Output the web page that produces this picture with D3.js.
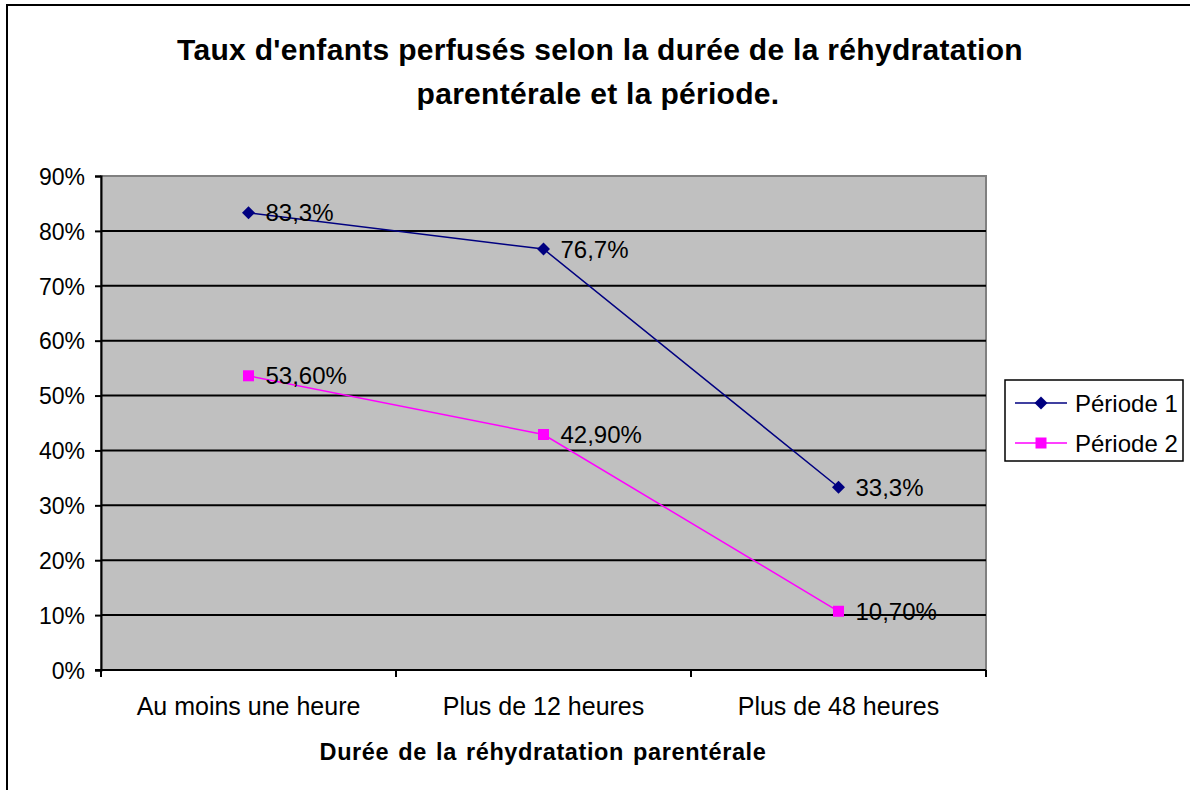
<!DOCTYPE html>
<html lang="fr">
<head>
<meta charset="UTF-8">
<title>Taux d'enfants perfusés</title>
<script src="https://cdnjs.cloudflare.com/ajax/libs/d3/7.8.5/d3.min.js"></script>
<style>
  body { margin: 0; background: #fff; }
  svg { font-family: "Liberation Sans", Arial, sans-serif; }
</style>
</head>
<body>
<div id="chart"></div>
<script>
var categories = ["Au moins une heure", "Plus de 12 heures", "Plus de 48 heures"];
var periode1 = [83.3, 76.7, 33.3];
var periode2 = [53.6, 42.9, 10.7];
var labels1 = ["83,3%", "76,7%", "33,3%"];
var labels2 = ["53,60%", "42,90%", "10,70%"];
var seriesNames = ["Période 1", "Période 2"];
var yTicks = [0, 10, 20, 30, 40, 50, 60, 70, 80, 90];

var width = 1190, height = 790;
var plot = { left: 101, top: 176, right: 986, bottom: 670 };
var font = "Liberation Sans, Arial, sans-serif";

var svg = d3.select("#chart").append("svg")
  .attr("width", width).attr("height", height);

// outer frame
svg.append("rect")
  .attr("x", 7).attr("y", 5).attr("width", 1200).attr("height", 800)
  .attr("fill", "#fff").attr("stroke", "#000").attr("stroke-width", 2);

// title
var title = svg.append("text")
  .attr("text-anchor", "middle")
  .attr("font-size", 30).attr("font-weight", "bold")
  .attr("letter-spacing", 0.3);
title.append("tspan").attr("x", 600).attr("y", 60)
  .text("Taux d'enfants perfusés selon la durée de la réhydratation");
title.append("tspan").attr("x", 598).attr("y", 104)
  .text("parentérale et la période.");

var x = d3.scaleBand().domain(categories).range([plot.left, plot.right]);
var y = d3.scaleLinear().domain([0, 90]).range([plot.bottom, plot.top]);

// plot area
svg.append("rect")
  .attr("x", plot.left).attr("y", plot.top)
  .attr("width", plot.right - plot.left).attr("height", plot.bottom - plot.top)
  .attr("fill", "#c0c0c0").attr("stroke", "#808080").attr("stroke-width", 2);

// gridlines
svg.append("g").selectAll("line")
  .data(yTicks.filter(function (d) { return d > 0 && d < 90; }))
  .enter().append("line")
  .attr("x1", plot.left).attr("x2", plot.right)
  .attr("y1", function (d) { return y(d); })
  .attr("y2", function (d) { return y(d); })
  .attr("stroke", "#000").attr("stroke-width", 2);

// y axis
var yAxis = svg.append("g")
  .attr("transform", "translate(" + plot.left + ",0)")
  .call(d3.axisLeft(y).tickValues(yTicks).tickSize(6).tickPadding(10)
    .tickFormat(function (d) { return d + "%"; }));
yAxis.select(".domain").attr("stroke", "#000").attr("stroke-width", 2);
yAxis.selectAll(".tick line").attr("stroke", "#000").attr("stroke-width", 2);
yAxis.selectAll(".tick text").attr("font-size", 23).attr("dy", "0.36em")
  .attr("font-family", font).attr("fill", "#000");

// x axis
var xAxis = svg.append("g")
  .attr("transform", "translate(0," + plot.bottom + ")")
  .call(d3.axisBottom(x).tickSize(0));
xAxis.select(".domain").remove();
xAxis.selectAll(".tick text").attr("font-size", 25)
  .attr("y", 45).attr("dy", 0)
  .attr("font-family", font).attr("fill", "#000");
svg.append("line")
  .attr("x1", plot.left - 6).attr("x2", plot.right)
  .attr("y1", plot.bottom).attr("y2", plot.bottom)
  .attr("stroke", "#000").attr("stroke-width", 2);
svg.append("g").selectAll("line")
  .data(categories.concat(["end"]))
  .enter().append("line")
  .attr("x1", function (d, i) { return i < categories.length ? x(d) : plot.right; })
  .attr("x2", function (d, i) { return i < categories.length ? x(d) : plot.right; })
  .attr("y1", plot.bottom).attr("y2", plot.bottom + 7)
  .attr("stroke", "#000").attr("stroke-width", 2);

svg.append("text")
  .attr("x", 543).attr("y", 760)
  .attr("text-anchor", "middle")
  .attr("font-size", 23.5).attr("font-weight", "bold")
  .attr("letter-spacing", 0.6).attr("word-spacing", 2)
  .text("Durée de la réhydratation parentérale");

var cx = function (d, i) { return x(categories[i]) + x.bandwidth() / 2; };

// rhombus marker like the spreadsheet one
var rhombus = {
  draw: function (ctx, size) {
    var r = Math.sqrt(size / 2);
    ctx.moveTo(0, -r); ctx.lineTo(r, 0); ctx.lineTo(0, r); ctx.lineTo(-r, 0); ctx.closePath();
  }
};

var series = [
  { values: periode1, labels: labels1, color: "#000080", shape: rhombus, size: 84 },
  { values: periode2, labels: labels2, color: "#ff00ff", shape: d3.symbolSquare, size: 121 }
];

var line = d3.line()
  .x(function (d, i) { return cx(d, i); })
  .y(function (d) { return y(d); });

series.forEach(function (s) {
  svg.append("path").datum(s.values)
    .attr("d", line).attr("fill", "none")
    .attr("stroke", s.color).attr("stroke-width", 1.5);
  svg.append("g").selectAll("path")
    .data(s.values).enter().append("path")
    .attr("d", d3.symbol().type(s.shape).size(s.size))
    .attr("transform", function (d, i) { return "translate(" + cx(d, i) + "," + y(d) + ")"; })
    .attr("fill", s.color);
});

series.forEach(function (s) {
  svg.append("g").selectAll("text")
    .data(s.values).enter().append("text")
    .attr("x", function (d, i) { return cx(d, i) + 17; })
    .attr("y", function (d) { return y(d) + 8.5; })
    .attr("font-size", 24).attr("fill", "#000")
    .text(function (d, i) { return s.labels[i]; });
});

// legend
var legend = svg.append("g");
legend.append("rect")
  .attr("x", 1005).attr("y", 380).attr("width", 178).attr("height", 81)
  .attr("fill", "#fff").attr("stroke", "#000").attr("stroke-width", 1.5);
series.forEach(function (s, i) {
  var ly = 403 + i * 40;
  legend.append("line")
    .attr("x1", 1015).attr("x2", 1067).attr("y1", ly).attr("y2", ly)
    .attr("stroke", s.color).attr("stroke-width", 1.5);
  legend.append("path")
    .attr("d", d3.symbol().type(s.shape).size(s.size))
    .attr("transform", "translate(1041," + ly + ")")
    .attr("fill", s.color);
  legend.append("text")
    .attr("x", 1075).attr("y", ly + 8.5)
    .attr("font-size", 24).attr("fill", "#000")
    .text(seriesNames[i]);
});
</script>
</body>
</html>
